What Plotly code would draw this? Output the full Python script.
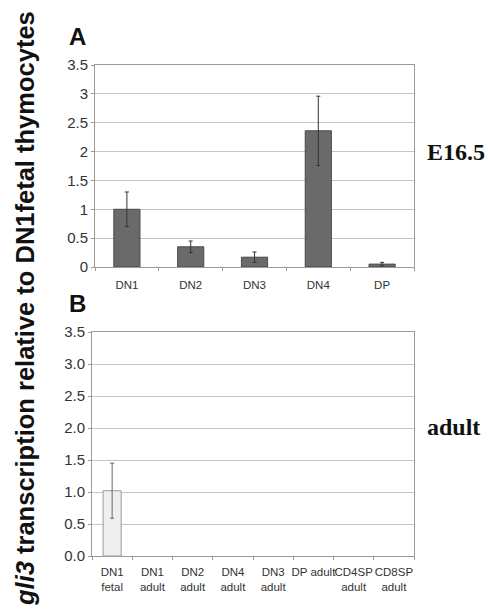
import plotly.graph_objects as go

# Panel A (E16.5)
cats_a = ["DN1", "DN2", "DN3", "DN4", "DP"]
vals_a = [1.0, 0.35, 0.17, 2.36, 0.05]
err_a = [0.30, 0.10, 0.09, 0.60, 0.03]

# Panel B (adult)
cats_b = ["DN1<br>fetal", "DN1<br>adult", "DN2<br>adult", "DN4<br>adult",
          "DN3<br>adult", "DP adult", "CD4SP<br>adult", "CD8SP<br>adult"]
vals_b = [1.02, None, None, None, None, None, None, None]
err_b = [0.43, None, None, None, None, None, None, None]

W, H = 488, 616
def px(x): return x / W
def py(y): return 1 - y / H

fig = go.Figure()
fig.add_trace(go.Bar(
    x=cats_a, y=vals_a, xaxis="x", yaxis="y", width=0.41,
    marker=dict(color="#6a6a6a", line=dict(color="#4a4a4a", width=1)),
    error_y=dict(type="data", array=err_a, color="#333333", thickness=1, width=2),
    showlegend=False))
fig.add_trace(go.Bar(
    x=cats_b, y=vals_b, xaxis="x2", yaxis="y2", width=0.45,
    marker=dict(color="#efefef", line=dict(color="#9a9a9a", width=1)),
    error_y=dict(type="data", array=err_b, color="#666666", thickness=1, width=2),
    showlegend=False))

axis_common = dict(showline=True, linecolor="#9a9a9a", linewidth=1, mirror=True,
                   zeroline=False, automargin=False)
tickfont_y = dict(family="Liberation Sans, Arial", size=15, color="#333333")
tickfont_x = dict(family="Liberation Sans, Arial", size=11.5, color="#333333")

fig.update_layout(
    width=W, height=H,
    margin=dict(l=0, r=0, t=0, b=0),
    paper_bgcolor="white", plot_bgcolor="white",
    xaxis=dict(domain=[px(95), px(414)], anchor="y", tickfont=tickfont_x, tickangle=0,
               ticks="outside", tickson="boundaries", ticklen=3, tickcolor="#9a9a9a",
               ticklabelstandoff=7, showgrid=False, **axis_common),
    yaxis=dict(domain=[py(267), py(65)], anchor="x", range=[0, 3.5],
               tickvals=[0, 0.5, 1, 1.5, 2, 2.5, 3, 3.5],
               ticktext=["0", "0.5", "1", "1.5", "2", "2.5", "3", "3.5"],
               tickfont=tickfont_y, ticks="outside", ticklen=3, tickcolor="#9a9a9a",
               showgrid=True, gridcolor="#c4c4c4", gridwidth=1, **axis_common),
    xaxis2=dict(domain=[px(92), px(414)], anchor="y2", tickfont=tickfont_x, tickangle=0,
                ticks="outside", tickson="boundaries", ticklen=3, tickcolor="#9a9a9a",
                ticklabelstandoff=5, showgrid=False, **axis_common),
    yaxis2=dict(domain=[py(556), py(332)], anchor="x2", range=[0, 3.5],
                tickvals=[0, 0.5, 1, 1.5, 2, 2.5, 3, 3.5], tickformat=".1f",
                tickfont=tickfont_y, ticks="outside", ticklen=3, tickcolor="#9a9a9a",
                showgrid=True, gridcolor="#c4c4c4", gridwidth=1, **axis_common),
)

def note(x, y, text, family, size, xanchor="left", angle=0):
    return dict(x=px(x), y=py(y), xref="paper", yref="paper", text=text,
                textangle=angle, font=dict(family=family, size=size, color="#111111"),
                showarrow=False, xanchor=xanchor, yanchor="middle")

sans = "Liberation Sans, Arial"
serif = "Liberation Serif, Times New Roman"
ann = [
    note(25, 309, "<b><i>gli3</i> transcription relative to DN1fetal thymocytes</b>",
         sans, 25.5, xanchor="center", angle=-90),
    note(67, 37, "<b>A</b>", sans, 24),
    note(67, 304, "<b>B</b>", sans, 24),
    note(425, 152, "<b>E16.5</b>", serif, 24),
    note(425, 427, "<b>adult</b>", serif, 24),
]
fig.update_layout(annotations=ann)

fig.write_html("out.html", config={"displayModeBar": False},
               post_script="document.body.style.margin='0px';")
